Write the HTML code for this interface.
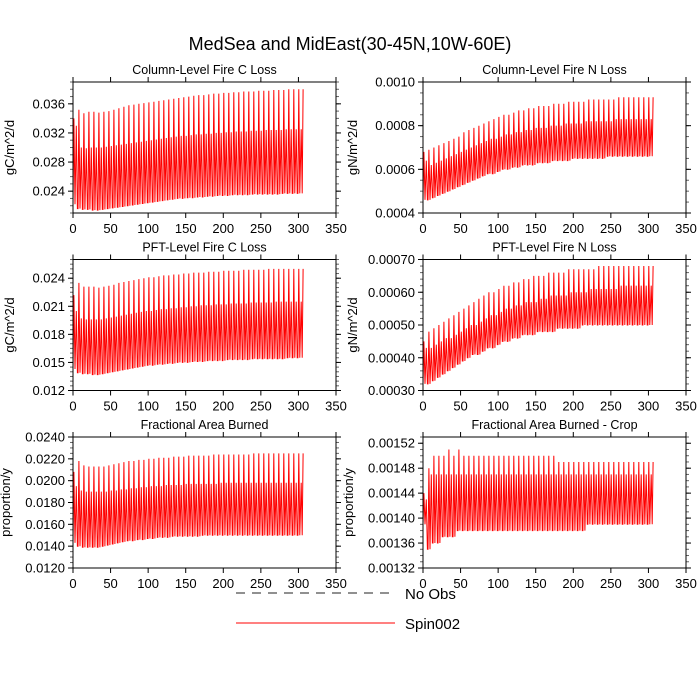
<!DOCTYPE html>
<html><head><meta charset="utf-8"><style>
html,body{margin:0;padding:0;background:#fff;}
svg{display:block;font-family:"Liberation Sans",sans-serif;}
</style></head><body>
<svg id="chart" width="700" height="700" viewBox="0 0 700 700" xmlns="http://www.w3.org/2000/svg">
<rect width="700" height="700" fill="#fff"/>
<text x="350" y="50" text-anchor="middle" font-size="18">MedSea and MidEast(30-45N,10W-60E)</text>
<g id="panels"></g>
<g>
<line x1="236" y1="593" x2="395" y2="593" stroke="#222" stroke-width="1" stroke-dasharray="9,7"/>
<text x="405" y="599" font-size="15">No Obs</text>
<line x1="236" y1="623" x2="395" y2="623" stroke="#f00" stroke-width="1"/>
<text x="405" y="629" font-size="15">Spin002</text>
</g>
</svg>
<script>
// Cycle period in model years (x units)
const cyclePeriod = 6.65;
const xTicks = [0,50,100,150,200,250,300,350];

// Column-Level Fire C Loss
const colCHigh = [.0340,.0352,.0347,.0349,.0349,.0348,.0349,.0350,.0352,.0354,.0356,.0358,.0359,.0360,.0361,.0362,.0363,.0364,.0365,.0366,.0367,.0368,.0369,.0370,.0371,.0372,.0372,.0373,.0374,.0374,.0375,.0375,.0376,.0376,.0377,.0377,.0377,.0378,.0378,.0378,.0379,.0379,.0379,.0380,.0380,.0380];
const colCMid = [.0330,.0300,.0299,.0300,.0300,.0300,.0301,.0302,.0303,.0304,.0305,.0306,.0307,.0308,.0309,.0310,.0311,.0312,.0313,.0314,.0315,.0316,.0316,.0317,.0318,.0318,.0319,.0319,.0320,.0320,.0321,.0321,.0322,.0322,.0322,.0323,.0323,.0323,.0324,.0324,.0324,.0324,.0325,.0325,.0325,.0325];
const colCLow = [.0222,.0216,.0215,.0215,.0214,.0214,.0215,.0216,.0217,.0218,.0219,.0220,.0221,.0222,.0223,.0224,.0225,.0226,.0227,.0228,.0229,.0230,.0230,.0231,.0231,.0232,.0232,.0233,.0233,.0234,.0234,.0234,.0235,.0235,.0235,.0235,.0236,.0236,.0236,.0236,.0236,.0236,.0237,.0237,.0237,.0237];
const colCTicks = [0.024,0.028,0.032,0.036];

// Column-Level Fire N Loss
const colNHigh = [.00068,.00069,.00070,.00071,.00072,.00073,.00074,.00075,.00077,.00078,.00079,.00080,.00081,.00082,.00083,.00084,.00085,.00085,.00086,.00087,.00087,.00088,.00088,.00089,.00089,.00089,.00090,.00090,.00090,.00091,.00091,.00091,.00091,.00092,.00092,.00092,.00092,.00092,.00092,.00093,.00093,.00093,.00093,.00093,.00093,.00093];
const colNMid = [.00064,.00062,.00063,.00064,.00065,.00066,.00067,.00068,.00069,.00070,.00071,.00072,.00073,.00074,.00074,.00075,.00076,.00076,.00077,.00077,.00078,.00078,.00079,.00079,.00079,.00080,.00080,.00080,.00081,.00081,.00081,.00081,.00082,.00082,.00082,.00082,.00082,.00082,.00083,.00083,.00083,.00083,.00083,.00083,.00083,.00083];
const colNLow = [.00046,.00046,.00047,.00048,.00049,.00050,.00051,.00052,.00053,.00054,.00055,.00056,.00057,.00058,.00058,.00059,.00060,.00060,.00061,.00061,.00062,.00062,.00062,.00063,.00063,.00063,.00064,.00064,.00064,.00064,.00065,.00065,.00065,.00065,.00065,.00065,.00065,.00066,.00066,.00066,.00066,.00066,.00066,.00066,.00066,.00066];
const colNTicks = [0.0004,0.0006,0.0008,0.0010];

// PFT-Level Fire C Loss
const pftCHigh = [.0222,.0235,.0231,.0231,.0231,.0230,.0231,.0232,.0233,.0235,.0236,.0237,.0238,.0239,.0240,.0241,.0241,.0242,.0243,.0243,.0244,.0244,.0245,.0245,.0246,.0246,.0246,.0247,.0247,.0247,.0248,.0248,.0248,.0248,.0249,.0249,.0249,.0249,.0249,.0250,.0250,.0250,.0250,.0250,.0250,.0250];
const pftCMid = [.0205,.0197,.0196,.0196,.0196,.0196,.0197,.0198,.0199,.0200,.0201,.0202,.0203,.0204,.0205,.0205,.0206,.0207,.0207,.0208,.0208,.0209,.0209,.0210,.0210,.0211,.0211,.0211,.0212,.0212,.0212,.0213,.0213,.0213,.0213,.0214,.0214,.0214,.0214,.0214,.0215,.0215,.0215,.0215,.0215,.0215];
const pftCLow = [.0143,.0139,.0138,.0138,.0137,.0137,.0138,.0139,.0140,.0141,.0142,.0143,.0144,.0145,.0146,.0147,.0147,.0148,.0148,.0149,.0149,.0150,.0150,.0150,.0151,.0151,.0151,.0152,.0152,.0152,.0152,.0153,.0153,.0153,.0153,.0153,.0154,.0154,.0154,.0154,.0154,.0154,.0154,.0155,.0155,.0155];
const pftCTicks = [0.012,0.015,0.018,0.021,0.024];

// PFT-Level Fire N Loss
const pftNHigh = [.00045,.00048,.00049,.00050,.00051,.00052,.00053,.00054,.00055,.00056,.00057,.00058,.00059,.00060,.00060,.00061,.00062,.00062,.00063,.00063,.00064,.00064,.00065,.00065,.00065,.00066,.00066,.00066,.00066,.00067,.00067,.00067,.00067,.00067,.00067,.00068,.00068,.00068,.00068,.00068,.00068,.00068,.00068,.00068,.00068,.00068];
const pftNMid = [.00043,.00043,.00044,.00045,.00046,.00046,.00047,.00048,.00049,.00050,.00050,.00051,.00052,.00053,.00053,.00054,.00055,.00055,.00056,.00056,.00057,.00057,.00057,.00058,.00058,.00059,.00059,.00059,.00059,.00060,.00060,.00060,.00060,.00061,.00061,.00061,.00061,.00061,.00061,.00062,.00062,.00062,.00062,.00062,.00062,.00062];
const pftNLow = [.00032,.00032,.00033,.00034,.00035,.00036,.00037,.00038,.00039,.00040,.00041,.00041,.00042,.00043,.00043,.00044,.00045,.00045,.00046,.00046,.00047,.00047,.00047,.00048,.00048,.00048,.00048,.00049,.00049,.00049,.00049,.00049,.00050,.00050,.00050,.00050,.00050,.00050,.00050,.00050,.00050,.00050,.00050,.00050,.00050,.00050];
const pftNTicks = [0.0003,0.0004,0.0005,0.0006,0.0007];

// Fractional Area Burned
const fracHigh = [.0208,.0218,.0214,.0213,.0213,.0213,.0213,.0214,.0215,.0216,.0217,.0218,.0218,.0219,.0219,.0220,.0220,.0221,.0221,.0221,.0222,.0222,.0222,.0223,.0223,.0223,.0223,.0223,.0224,.0224,.0224,.0224,.0224,.0224,.0224,.0224,.0225,.0225,.0225,.0225,.0225,.0225,.0225,.0225,.0225,.0225];
const fracMid = [.0195,.0191,.0190,.0190,.0190,.0190,.0190,.0191,.0191,.0192,.0192,.0193,.0193,.0194,.0194,.0195,.0195,.0195,.0196,.0196,.0196,.0196,.0197,.0197,.0197,.0197,.0197,.0197,.0197,.0198,.0198,.0198,.0198,.0198,.0198,.0198,.0198,.0198,.0198,.0198,.0198,.0198,.0198,.0198,.0198,.0198];
const fracLow = [.0143,.0140,.0139,.0139,.0139,.0139,.0140,.0141,.0142,.0143,.0144,.0145,.0145,.0146,.0146,.0147,.0147,.0148,.0148,.0148,.0149,.0149,.0149,.0149,.0149,.0149,.0150,.0150,.0150,.0150,.0150,.0150,.0150,.0150,.0150,.0150,.0150,.0150,.0150,.0150,.0150,.0150,.0150,.0150,.0150,.0150];
const fracTicks = [0.0120,0.0140,0.0160,0.0180,0.0200,0.0220,0.0240];

// Fractional Area Burned - Crop
const cropHigh = [.00144,.00148,.00150,.00150,.00150,.00151,.00150,.00151,.00150,.00150,.00150,.00150,.00150,.00150,.00150,.00150,.00150,.00150,.00150,.00150,.00150,.00150,.00150,.00150,.00150,.00150,.00150,.00149,.00149,.00149,.00149,.00149,.00149,.00149,.00149,.00149,.00149,.00149,.00149,.00149,.00149,.00149,.00149,.00149,.00149,.00149];
const cropMid = [.00143,.00147,.00147,.00147,.00147,.00147,.00147,.00147,.00147,.00147,.00147,.00147,.00147,.00147,.00147,.00147,.00147,.00147,.00147,.00147,.00147,.00147,.00147,.00147,.00147,.00147,.00147,.00147,.00147,.00147,.00147,.00147,.00147,.00147,.00147,.00147,.00147,.00147,.00147,.00147,.00147,.00147,.00147,.00147,.00147,.00147];
const cropLow = [.00139,.00135,.00136,.00136,.00137,.00137,.00137,.00138,.00138,.00138,.00138,.00138,.00138,.00138,.00138,.00138,.00138,.00138,.00138,.00138,.00138,.00138,.00138,.00138,.00138,.00138,.00138,.00138,.00138,.00138,.00138,.00138,.00138,.00139,.00139,.00139,.00139,.00139,.00139,.00139,.00139,.00139,.00139,.00139,.00139,.00139];
const cropTicks = [0.00132,0.00136,0.00140,0.00144,0.00148,0.00152];

const NS='http://www.w3.org/2000/svg';
function mk(tag, attrs, parent){const e=document.createElementNS(NS,tag);for(const k in attrs)e.setAttribute(k,attrs[k]);parent.appendChild(e);return e;}

const panels = [
 {key:'column-c',title:'Column-Level Fire C Loss',ylab:'gC/m^2/d',yoff:59,x0:73,x1:336,top:82,bot:213,ymin:0.021,ymax:0.039,ticks:colCTicks,minor:0.001,dec:3,hi:colCHigh,mid:colCMid,lo:colCLow},
 {key:'column-n',title:'Column-Level Fire N Loss',ylab:'gN/m^2/d',yoff:66,x0:423,x1:686,top:82,bot:213,ymin:0.0004,ymax:0.0010,ticks:colNTicks,minor:0.00005,dec:4,hi:colNHigh,mid:colNMid,lo:colNLow},
 {key:'pft-c',title:'PFT-Level Fire C Loss',ylab:'gC/m^2/d',yoff:59,x0:73,x1:336,top:259.5,bot:390.5,ymin:0.012,ymax:0.026,ticks:pftCTicks,minor:0.0005,dec:3,hi:pftCHigh,mid:pftCMid,lo:pftCLow},
 {key:'pft-n',title:'PFT-Level Fire N Loss',ylab:'gN/m^2/d',yoff:66,x0:423,x1:686,top:259.5,bot:390.5,ymin:0.0003,ymax:0.0007,ticks:pftNTicks,minor:0.00002,dec:5,hi:pftNHigh,mid:pftNMid,lo:pftNLow},
 {key:'frac-area',title:'Fractional Area Burned',ylab:'proportion/y',yoff:63,x0:73,x1:336,top:437,bot:568,ymin:0.012,ymax:0.024,ticks:fracTicks,minor:0.0005,dec:4,hi:fracHigh,mid:fracMid,lo:fracLow},
 {key:'frac-area-crop',title:'Fractional Area Burned - Crop',ylab:'proportion/y',yoff:70,x0:423,x1:686,top:437,bot:568,ymin:0.00132,ymax:0.00153,ticks:cropTicks,minor:0.00001,dec:5,hi:cropHigh,mid:cropMid,lo:cropLow}
];

const root=document.getElementById('panels');
panels.forEach(p=>{
  const g=mk('g',{},root);
  
  
  const xs=v=>p.x0+(v/350)*(p.x1-p.x0);
  const ys=v=>p.bot-(v-p.ymin)/(p.ymax-p.ymin)*(p.bot-p.top);
  const t=mk('text',{x:(p.x0+p.x1)/2,y:p.top-8,'text-anchor':'middle','font-size':'12.5'},g);
  t.textContent=p.title;
  
  
  const yl=mk('text',{x:0,y:0,'text-anchor':'middle','font-size':'13',transform:`translate(${p.x0-p.yoff},${(p.top+p.bot)/2}) rotate(-90)`},g);
  yl.textContent=p.ylab;
  
  
  const nMin=Math.round((p.ymax-p.ymin)/p.minor);
  for(let i=0;i<=nMin;i++){
    const v=p.ymin+i*p.minor, y=ys(v);
    if(y<p.top-0.5||y>p.bot+0.5) continue;
    mk('line',{x1:p.x0-3,x2:p.x0,y1:y,y2:y,stroke:'#666','stroke-width':1},g);
    mk('line',{x1:p.x1,x2:p.x1+3,y1:y,y2:y,stroke:'#666','stroke-width':1},g);
  }
  p.ticks.forEach(v=>{
    const y=ys(v);
    mk('line',{x1:p.x0-5,x2:p.x0,y1:y,y2:y,stroke:'#000','stroke-width':1},g);
    mk('line',{x1:p.x1,x2:p.x1+5,y1:y,y2:y,stroke:'#000','stroke-width':1},g);
    const tl=mk('text',{x:p.x0-8,y:y+4.5,'text-anchor':'end','font-size':'13'},g);
    tl.textContent=v.toFixed(p.dec);
    
    
  });
  xTicks.forEach(v=>{
    const x=xs(v);
    mk('line',{x1:x,x2:x,y1:p.bot,y2:p.bot+5,stroke:'#000','stroke-width':1},g);
    mk('line',{x1:x,x2:x,y1:p.top-5,y2:p.top,stroke:'#000','stroke-width':1},g);
    const tl=mk('text',{x:x,y:p.bot+20,'text-anchor':'middle','font-size':'13'},g);
    tl.textContent=String(v);
    
    
  });
  const n=Math.min(p.hi.length,p.mid.length,p.lo.length);
  let pts=[];
  for(let k=0;k<n;k++){
    const x0=k*cyclePeriod;
    const nextLo=p.lo[Math.min(k+1,n-1)];
    pts.push([xs(x0),ys(p.lo[k])]);
    pts.push([xs(x0+1.2),ys(p.hi[k])]);
    pts.push([xs(x0+2.6),ys(p.lo[k])]);
    pts.push([xs(x0+4.4),ys(p.mid[k])]);
    pts.push([xs(x0+5.8),ys(nextLo)]);
  }
  pts.push([xs(n*cyclePeriod+0.3),ys(p.hi[n-1])]);
  const path=mk('polyline',{points:pts.map(q=>q[0].toFixed(1)+','+q[1].toFixed(1)).join(' '),fill:'none',stroke:'#f00','stroke-width':1,'stroke-linejoin':'miter'},g);
  
  
  const fr=mk('rect',{x:p.x0,y:p.top,width:p.x1-p.x0,height:p.bot-p.top,fill:'none',stroke:'#000','stroke-width':1},g);
  
  
});
</script>
</body></html>
